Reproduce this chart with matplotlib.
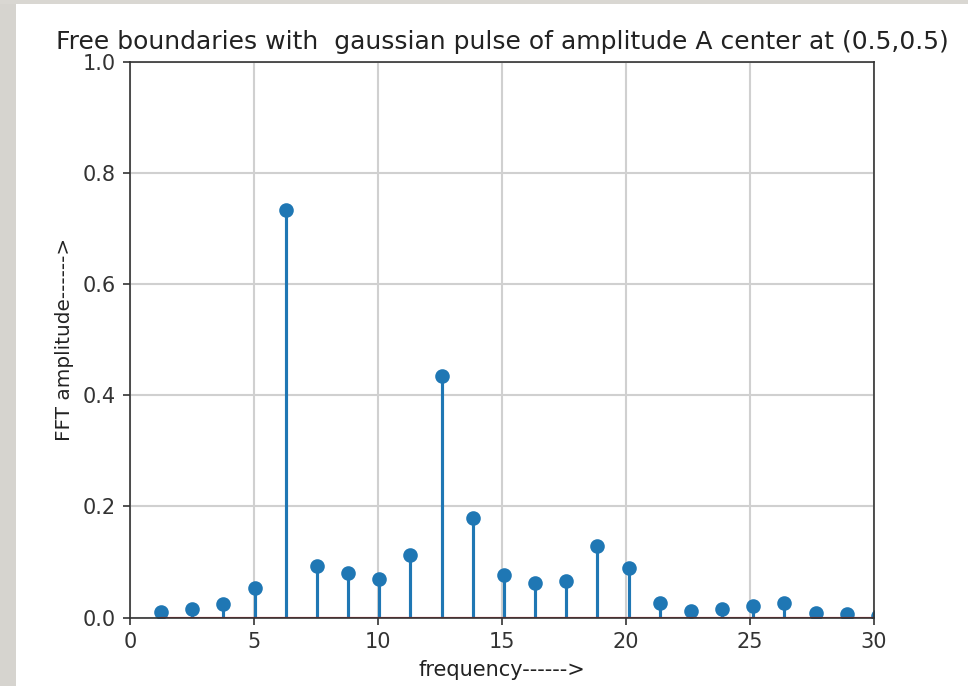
import numpy as np
import matplotlib
matplotlib.use("Agg")
import matplotlib.pyplot as plt
from matplotlib.patches import Rectangle

# Data
k = list(range(1, 25))
frequency = [2 * np.pi / 5 * i for i in k]
amplitude = [0.010, 0.015, 0.024, 0.053, 0.734, 0.093, 0.080, 0.069,
             0.113, 0.435, 0.180, 0.077, 0.062, 0.065, 0.129, 0.090,
             0.026, 0.012, 0.015, 0.021, 0.027, 0.009, 0.006, 0.003]

title = "Free boundaries with  gaussian pulse of amplitude A center at (0.5,0.5)"
xlabel = "frequency------>"
ylabel = "FFT amplitude------>"

W, H = 968, 686
fig = plt.figure(figsize=(W / 150, H / 150), dpi=150)
fig.patch.set_facecolor("white")

# screenshot gray borders
fig.add_artist(Rectangle((0, 0), 16 / W, 1, transform=fig.transFigure,
                         facecolor="#d6d4cf", edgecolor="none", zorder=-10))
fig.add_artist(Rectangle((0, 1 - 4 / H), 1, 4 / H, transform=fig.transFigure,
                         facecolor="#d9d7d2", edgecolor="none", zorder=-10))

left, right, top, bottom = 130, 874, 62, 617.5
ax = fig.add_axes([left / W, 1 - bottom / H, (right - left) / W, (bottom - top) / H])

markerline, stemlines, baseline = ax.stem(frequency, amplitude)
baseline.set_color("C3")
ax.set_xlim(0, 30)
ax.set_ylim(0, 1.0)
ax.grid(True, color="#d0d0d0", linewidth=1.0)
ax.set_axisbelow(True)
ax.set_title(title, fontsize=12, color="#222222")
ax.set_xlabel(xlabel, fontsize=10, color="#222222")
ax.set_ylabel(ylabel, fontsize=9.6, color="#222222")
ax.tick_params(labelsize=10, labelcolor="#333333", color="#333333")
for s in ax.spines.values():
    s.set_color("#333333")

fig.savefig("out.png", dpi=150)
